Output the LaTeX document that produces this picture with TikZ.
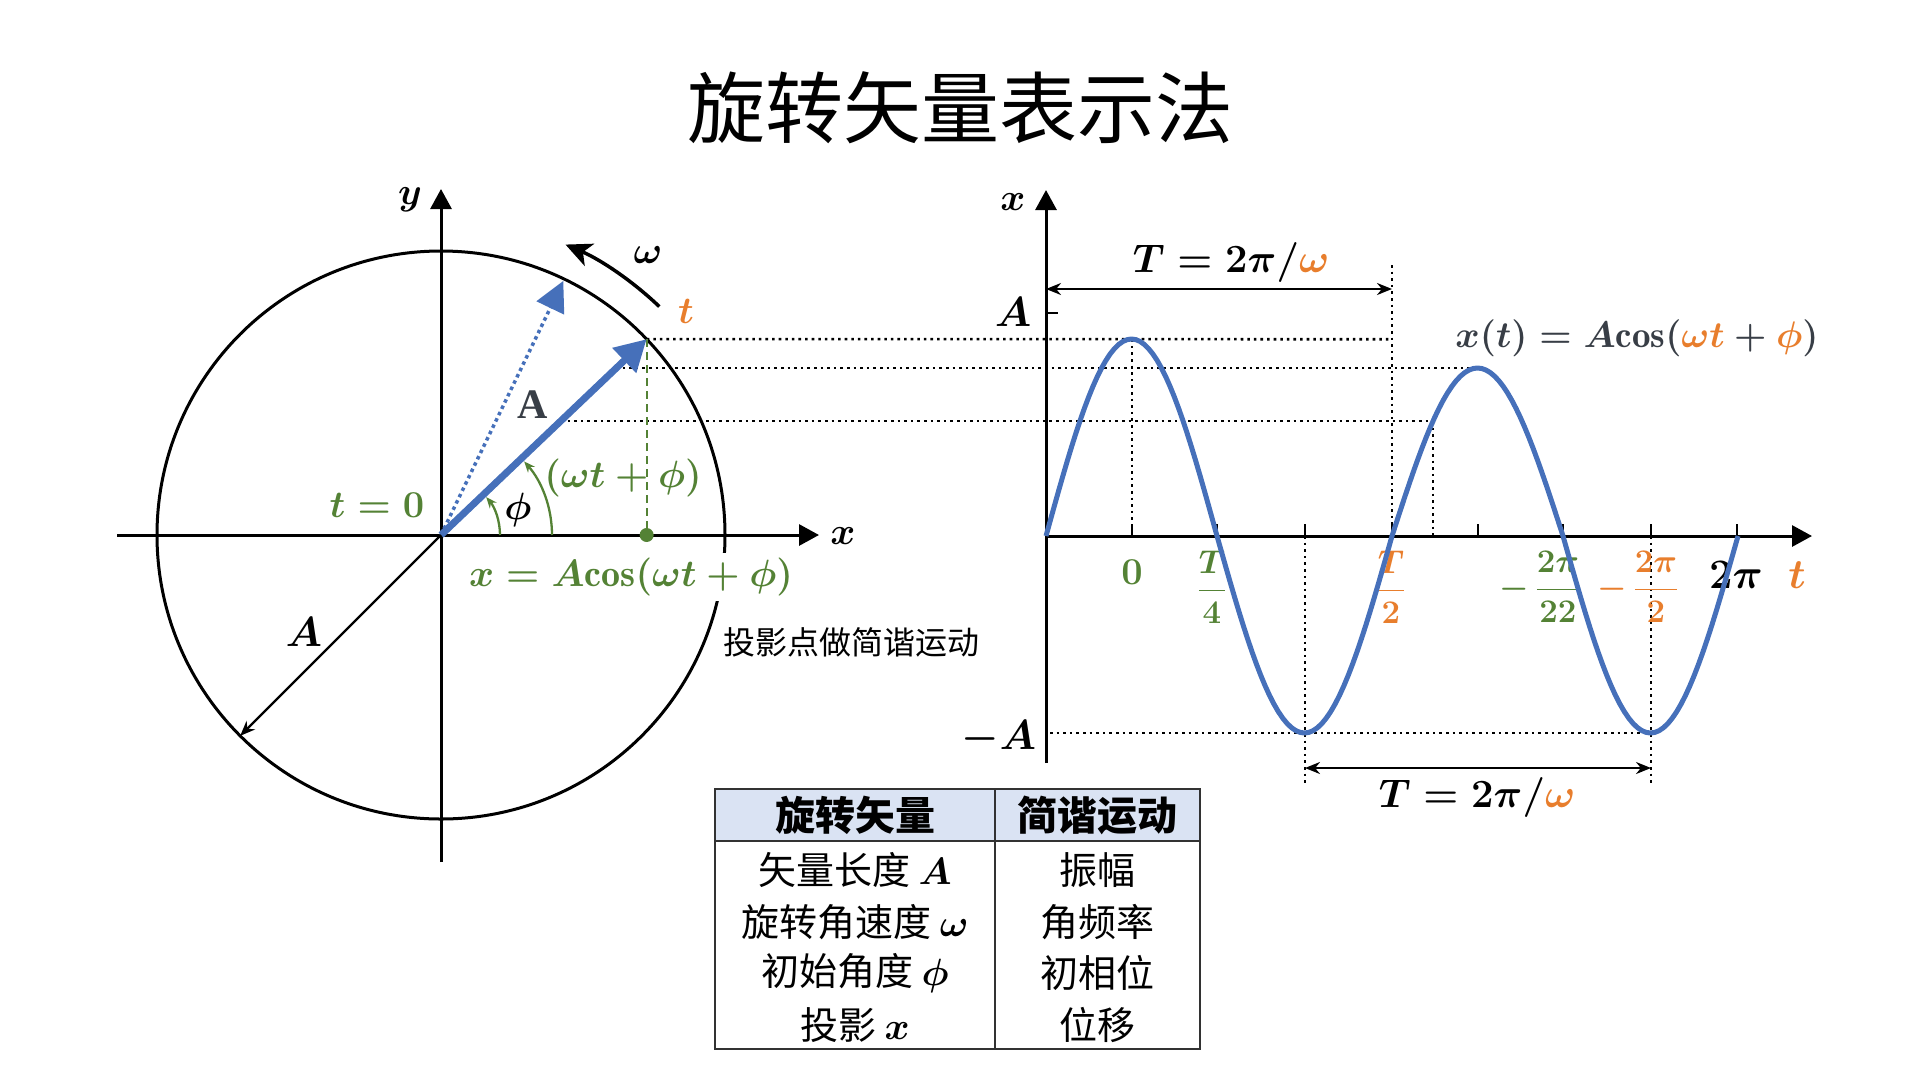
\RequirePackage{fix-cm}
\documentclass[tikz,border=0pt]{standalone}
\usepackage{fontspec}
\newfontfamily\cjk{Noto Sans CJK SC}
\newfontfamily\lserif{Liberation Serif}
\usetikzlibrary{arrows.meta}
\newcommand{\mysize}[1]{\fontsize{#1}{#1}\selectfont\boldmath}
\definecolor{vblue}{RGB}{70,112,186}
\definecolor{mgreen}{RGB}{84,130,53}
\definecolor{morange}{RGB}{232,126,45}
\definecolor{dgray}{RGB}{56,62,70}
\definecolor{hdr}{RGB}{218,227,243}
\definecolor{tline}{RGB}{50,50,50}
\begin{document}
\begin{tikzpicture}[x=1pt,y=-1pt,
  ax/.style={line width=3pt,-{Triangle[length=20pt,width=21pt]}},
  dotl/.style={line width=2.6pt,dash pattern=on 2.6pt off 4pt},
  lbl/.style={inner sep=0pt,font=\mysize{38}},
  lbig/.style={inner sep=0pt,font=\mysize{42}},
  frac/.style={inner sep=0pt,font=\mysize{33}},
  vec/.style={line width=7pt,vblue,-{Triangle[length=31pt,width=33pt]}},
  dvec/.style={line width=3.5pt,vblue,dash pattern=on 3.5pt off 3.5pt,-{Triangle[length=30pt,width=30pt]}},
  garc/.style={mgreen,line width=2.3pt,-{Stealth[length=11pt,width=9pt]}},
  dim/.style={line width=2.3pt,{Stealth[length=15pt,width=12pt]}-{Stealth[length=15pt,width=12pt]}},
  tick/.style={line width=2pt},
  thd/.style={font=\cjk\bfseries\mysize{40},inner sep=0pt},
  tbd/.style={font=\cjk\mysize{38},inner sep=0pt},
]
\useasboundingbox (0,0) rectangle (1920,1072);

% title
\node[font=\cjk\mysize{78},inner sep=0pt] (title) at (960,108) {旋转矢量表示法};

% ---------------- left: rotating vector ----------------
\coordinate (O) at (441,535);
\coordinate (yb) at (441,862);
\coordinate (yt) at (441,189);
\coordinate (xl) at (117,535);
\coordinate (xr) at (819,535);
\path (O) ++(-43.6:284) coordinate (P);
\path (O) ++(-64.3:282) coordinate (Q);
\coordinate (PX) at (P |- O);
\path (O) ++(135:284) coordinate (Aend);
\coordinate (L2a) at (616,368);
\coordinate (L3a) at (561,421);

\draw[line width=3pt] (O) circle[radius=284];
\draw[ax] (yb) -- (yt);
\draw[ax] (xl) -- (xr);

% right plot key points
\coordinate (R) at (1046,536);
\coordinate (Rb) at (1046,763);
\coordinate (Rt) at (1046,190);
\coordinate (Rr) at (1812,536);
\coordinate (pk1) at (1132,339.2);
\coordinate (pk1b) at (1132,536);
\coordinate (hT) at (1392,339.2);
\coordinate (hTt) at (1392,265);
\coordinate (hTb) at (1392,536);
\coordinate (pk2) at (1478,368);
\coordinate (c3) at (1433,421);
\coordinate (c3b) at (1433,536);
\coordinate (tr1a) at (1305,536);
\coordinate (tr1b) at (1305,783);
\coordinate (tr2a) at (1651,536);
\coordinate (tr2b) at (1651,783);
\coordinate (mAa) at (1050,733);
\coordinate (mAb) at (1651,733);

% projection lines
\draw[dotl] (P) -- (hT);
\draw[dotl] (L2a) -- (pk2);
\draw[dotl] (L3a) -- (c3);

% vectors
\draw[dvec] (O) -- (Q);
\draw[mgreen,line width=2.3pt,dash pattern=on 8pt off 5pt] (P) -- (PX);
\draw[vec] (O) -- (P);
\fill[mgreen] (PX) circle[radius=7];
\draw[garc] (O) ++(59,0) arc[start angle=0,end angle=-40,radius=59];
\draw[garc] (O) ++(111,0) arc[start angle=0,end angle=-41.5,radius=111];
\draw[line width=3.5pt,-{Stealth[length=26pt,width=24pt,inset=7pt]}] (O) ++(-46.3:316) arc[start angle=-46.3,end angle=-66.8,radius=316];
\draw[line width=2.3pt,-{Stealth[length=15pt,width=12pt]}] (O) -- (Aend);

% left labels
\node[lbl] (ylab) at (410,200) {$y$};
\node[lbl] (xlab) at (843,536) {$x$};
\node[lbl] (omg) at (648,255) {$\omega$};
\node[lbl,text=morange] (tlab) at (686,311) {$t$};
\node[inner sep=0pt,font=\lserif\fontsize{42}{42}\selectfont\bfseries,text=dgray] (Abold) at (533,405) {A};
\node[lbl,text=mgreen] (t0) at (377,505) {$t=0$};
\node[lbl] (phi) at (518,510) {$\phi$};
\node[lbl,text=mgreen] (wtp) at (623,478) {$(\omega t+\phi)$};
\node[lbl,text=mgreen,fill=white,inner sep=5pt] (xeq) at (631,577) {$x=A\mathrm{cos}(\omega t+\phi)$};
\node[lbig] (Alab) at (304,632) {$A$};
\node[font=\cjk\mysize{32},inner sep=0pt,anchor=west] (proj) at (723,642) {投影点做简谐运动};

% ---------------- right: x-t graph ----------------
\draw[ax] (Rb) -- (Rt);
\draw[ax] (R) -- (Rr);
\foreach \tx in {1132,1217,1305,1392,1478,1563,1651,1737}
  \draw[tick] (\tx,536) -- (\tx,524);
\draw[tick] (1046,313) -- (1058,313);

\draw[dotl] (pk1) -- (pk1b);
\draw[dotl] (hTt) -- (hTb);
\draw[dotl] (c3) -- (c3b);
\draw[dotl] (tr1a) -- (tr1b);
\draw[dotl] (tr2a) -- (tr2b);
\draw[dotl] (mAa) -- (mAb);

\coordinate (d1a) at (1046,289);
\coordinate (d1b) at (1392,289);
\coordinate (d2a) at (1305,768);
\coordinate (d2b) at (1651,768);
\draw[dim] (d1a) -- (d1b);
\draw[dim] (d2a) -- (d2b);

% labels right
\node[lbl] (xlab2) at (1013,202) {$x$};
\node[lbig] (Atk) at (1013,312) {$A$};
\node[lbig] (mA) at (999,738) {$-A$};
\node[font=\mysize{40},inner sep=0pt] (T1) at (1231,262) {$T=2\pi/\textcolor{morange}{\omega}$};
\node[font=\mysize{40},inner sep=0pt] (T2) at (1477,797) {$T=2\pi/\textcolor{morange}{\omega}$};
\node[font=\mysize{37},inner sep=0pt,text=dgray] (xt) at (1637,338) {$x(t)=A\mathrm{cos}(\textcolor{morange}{\omega t}+\textcolor{morange}{\phi})$};

\node[lbl,text=mgreen] (l0) at (1132,572) {$0$};
\node[frac,text=mgreen] (lT4) at (1212,587) {$\displaystyle\frac{T}{4}$};
\node[frac,text=morange] (lT2) at (1391,587) {$\displaystyle\frac{T}{2}$};
\node[frac,text=mgreen] (l22) at (1540,587) {$-\,\displaystyle\frac{2\pi}{22}$};
\node[frac,text=morange] (l2) at (1638,587) {$-\,\displaystyle\frac{2\pi}{2}$};
\node[lbig] (l2pi) at (1736,575) {$2\pi$};
\node[lbig,text=morange] (tl) at (1797,575) {$t$};

% curve
\draw[vblue,line width=5pt,line join=round]
  plot[domain=0:180,samples=41] ({1046+0.95*\x},{536-197*sin(\x)})
  -- plot[domain=0:180,samples=41] ({1217+0.97222*\x},{536+197*sin(\x)})
  -- plot[domain=0:180,samples=41] ({1392+0.95*\x},{536-168*sin(\x)})
  -- plot[domain=0:180,samples=41] ({1563+0.97222*\x},{536+197*sin(\x)});

% ---------------- table ----------------
\coordinate (tb1) at (715,789);
\coordinate (tb2) at (1200,841);
\coordinate (tb3) at (1200,1049);
\coordinate (tm1) at (995,789);
\coordinate (tm2) at (995,1049);
\fill[hdr] (tb1) rectangle (tb2);
\draw[line width=2pt,tline] (715,841) -- (tb2);
\draw[line width=2pt,tline] (tb1) rectangle (tb3);
\draw[line width=2pt,tline] (tm1) -- (tm2);
\node[thd] (h1) at (855,815) {旋转矢量};
\node[thd] (h2) at (1097,815) {简谐运动};
\node[tbd] (a1) at (855,870) {矢量长度 $A$};
\node[tbd] (a2) at (855,922) {旋转角速度 $\omega$};
\node[tbd] (a3) at (855,973) {初始角度 $\phi$};
\node[tbd] (a4) at (855,1025) {投影 $x$};
\node[tbd] (b1) at (1097,870) {振幅};
\node[tbd] (b2) at (1097,922) {角频率};
\node[tbd] (b3) at (1097,973) {初相位};
\node[tbd] (b4) at (1097,1025) {位移};
\end{tikzpicture}
\end{document}
